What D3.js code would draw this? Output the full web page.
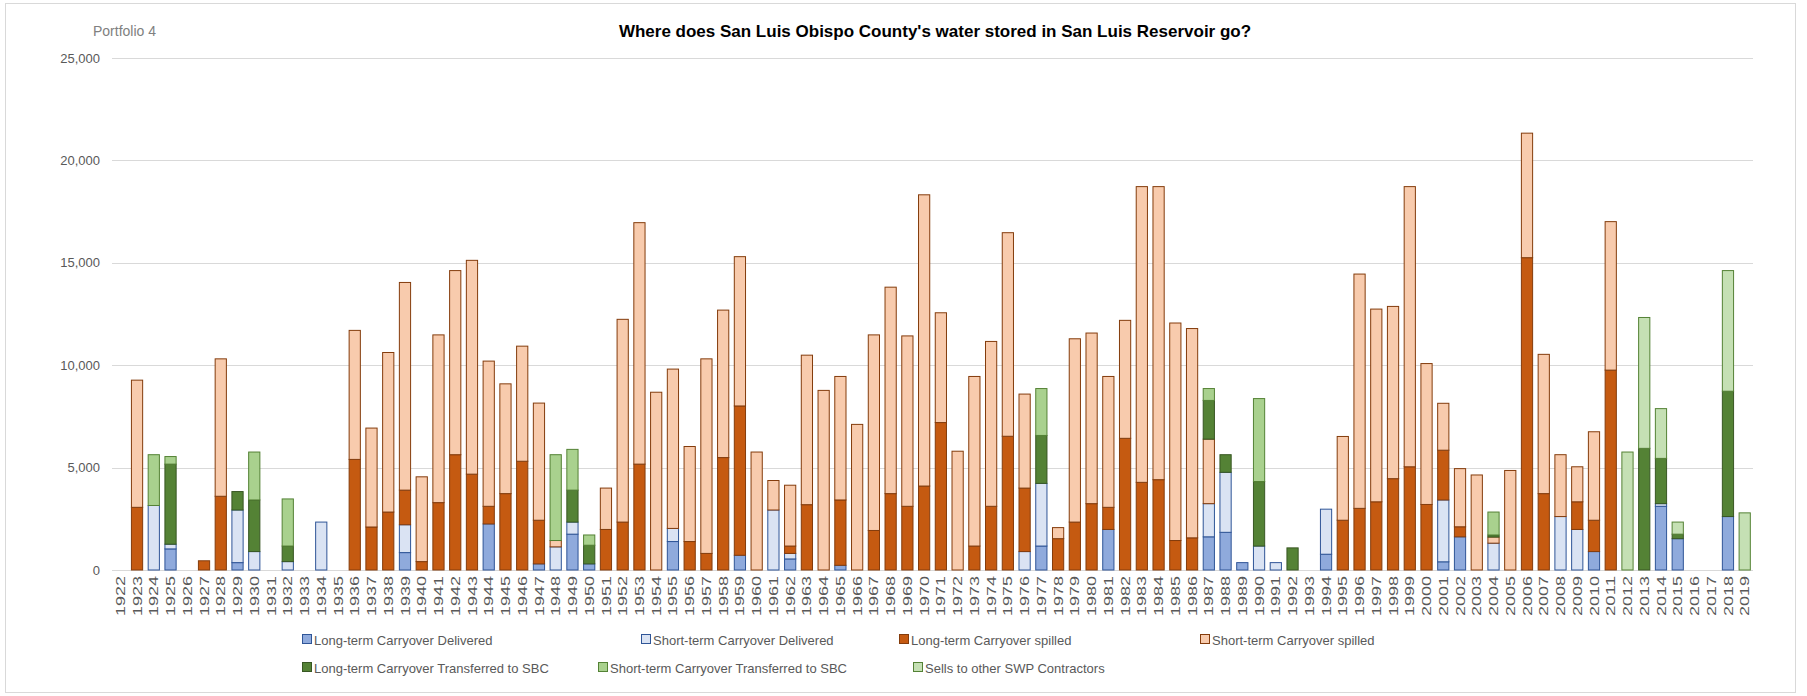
<!DOCTYPE html>
<html>
<head>
<meta charset="utf-8">
<script src="https://cdn.jsdelivr.net/npm/d3@7"></script>
<style>
  body { margin: 0; background: #fff; }
  svg text { font-family: "Liberation Sans Narrow", "Liberation Sans", Arial, sans-serif; }
</style>
</head>
<body>
<div id="chart"></div>
<script>
// years on the x axis
var years = d3.range(1922, 2020).map(String);

// series values (acre-feet), one entry per year 1922..2019
var ltDelivered = [
  0, 0, 0, 1030, 0, 0, 0, 360, 0, 0, 0, 0, 0, 0, 0, 0, 0, 850, 0, 0,
  0, 0, 2250, 0, 0, 300, 0, 1750, 300, 0, 0, 0, 0, 1390, 0, 0, 0, 720, 0, 0,
  540, 0, 0, 230, 0, 0, 0, 0, 0, 0, 0, 0, 0, 0, 0, 1170, 0, 0, 0, 1980,
  0, 0, 0, 0, 0, 1620, 1840, 360, 0, 0, 0, 0, 770, 0, 0, 0, 0, 0, 0, 400,
  1620, 0, 0, 0, 0, 0, 0, 0, 900, 0, 0, 0, 3110, 1530, 0, 0, 2610, 0
];
var stDelivered = [
  0, 0, 3150, 230, 0, 0, 0, 2570, 900, 0, 410, 0, 2340, 0, 0, 0, 0, 1360, 0, 0,
  0, 0, 0, 0, 0, 0, 1130, 590, 0, 0, 0, 0, 0, 640, 0, 0, 0, 0, 0, 2930,
  270, 0, 0, 0, 0, 0, 0, 0, 0, 0, 0, 0, 0, 0, 900, 3060, 0, 0, 0, 0,
  0, 0, 0, 0, 0, 1620, 2930, 0, 1170, 360, 0, 0, 2200, 0, 0, 0, 0, 0, 0, 3020,
  0, 0, 1310, 0, 0, 0, 2610, 1980, 0, 0, 0, 0, 130, 0, 0, 0, 0, 0
];
var ltSpilled = [
  0, 3060, 0, 0, 0, 450, 3600, 0, 0, 0, 0, 0, 0, 0, 5400, 2100, 2830, 1690, 410, 3290,
  5630, 4680, 860, 3730, 5310, 2130, 0, 0, 0, 1980, 2340, 5170, 0, 0, 1390, 810, 5490, 7290, 0, 0,
  360, 3190, 0, 3190, 0, 1930, 3730, 3110, 4100, 7200, 0, 1170, 3110, 6530, 3100, 0, 1530, 2340, 3240, 1080,
  6430, 4280, 4410, 1440, 1570, 0, 0, 0, 0, 0, 0, 0, 0, 2430, 3010, 3330, 4460, 5040, 3200, 2430,
  490, 0, 0, 0, 15250, 3730, 0, 1350, 1530, 9760, 0, 0, 0, 0, 0, 0, 0, 0
];
var stSpilled = [
  0, 6210, 0, 0, 0, 0, 6710, 0, 0, 0, 0, 0, 0, 0, 6300, 4830, 7790, 10140, 4140, 8190,
  8990, 10440, 7090, 5360, 5620, 5720, 310, 0, 0, 2020, 9900, 11790, 8680, 7780, 4640, 9500, 7200, 7290, 5760, 1440,
  2970, 7300, 8770, 6030, 7110, 9550, 10080, 8320, 14220, 5360, 5800, 8280, 8050, 9940, 4590, 0, 540, 8950, 8330, 6390,
  5760, 14440, 14310, 10620, 10220, 3150, 0, 0, 0, 0, 0, 0, 0, 4090, 11440, 9410, 8410, 13680, 6880, 2290,
  2840, 4640, 300, 4860, 6080, 6800, 3020, 1710, 4320, 7250, 0, 0, 0, 0, 0, 0, 0, 0
];
var ltTransferred = [
  0, 0, 0, 3910, 0, 0, 0, 900, 2520, 0, 760, 0, 0, 0, 0, 0, 0, 0, 0, 0,
  0, 0, 0, 0, 0, 0, 0, 1560, 910, 0, 0, 0, 0, 0, 0, 0, 0, 0, 0, 0,
  0, 0, 0, 0, 0, 0, 0, 0, 0, 0, 0, 0, 0, 0, 0, 2340, 0, 0, 0, 0,
  0, 0, 0, 0, 0, 1890, 860, 0, 3150, 0, 1080, 0, 0, 0, 0, 0, 0, 0, 0, 0,
  0, 0, 100, 0, 0, 0, 0, 0, 0, 0, 0, 5940, 2210, 220, 0, 0, 6120, 0
];
var stTransferred = [
  0, 0, 2480, 370, 0, 0, 0, 0, 2340, 0, 2300, 0, 0, 0, 0, 0, 0, 0, 0, 0,
  0, 0, 0, 0, 0, 0, 4190, 1990, 500, 0, 0, 0, 0, 0, 0, 0, 0, 0, 0, 0,
  0, 0, 0, 0, 0, 0, 0, 0, 0, 0, 0, 0, 0, 0, 0, 2290, 0, 0, 0, 0,
  0, 0, 0, 0, 0, 580, 0, 0, 4050, 0, 0, 0, 0, 0, 0, 0, 0, 0, 0, 0,
  0, 0, 1120, 0, 0, 0, 0, 0, 0, 0, 0, 0, 0, 0, 0, 0, 0, 0
];
var sellsSWP = [
  0, 0, 0, 0, 0, 0, 0, 0, 0, 0, 0, 0, 0, 0, 0, 0, 0, 0, 0, 0,
  0, 0, 0, 0, 0, 0, 0, 0, 0, 0, 0, 0, 0, 0, 0, 0, 0, 0, 0, 0,
  0, 0, 0, 0, 0, 0, 0, 0, 0, 0, 0, 0, 0, 0, 0, 0, 0, 0, 0, 0,
  0, 0, 0, 0, 0, 0, 0, 0, 0, 0, 0, 0, 0, 0, 0, 0, 0, 0, 0, 0,
  0, 0, 0, 0, 0, 0, 0, 0, 0, 0, 5760, 6390, 2430, 590, 0, 0, 5890, 2790
];

var seriesNames = [
  "Long-term Carryover Delivered",
  "Short-term Carryover Delivered",
  "Long-term Carryover spilled",
  "Short-term Carryover spilled",
  "Long-term Carryover Transferred to SBC",
  "Short-term Carryover Transferred to SBC",
  "Sells to other SWP Contractors"
];
var seriesValues = [ltDelivered, stDelivered, ltSpilled, stSpilled, ltTransferred, stTransferred, sellsSWP];
var yTicks = [0, 5000, 10000, 15000, 20000, 25000];

var fills = ["#8faadc", "#dae3f3", "#c55a11", "#f8cbad", "#548235", "#a9d18e", "#c5e0b4"];
var strokes = ["#2f5597", "#2f5597", "#843c0c", "#843c0c", "#385723", "#548235", "#548235"];

// size of the picture
var W = 1807, H = 696;
var margin = { top: 58, right: 54, bottom: 126, left: 112 },
    width = W - margin.left - margin.right,
    height = H - margin.top - margin.bottom;

var svg = d3.select("#chart")
    .append("svg")
    .attr("width", W)
    .attr("height", H);

// outer frame
svg.append("rect")
    .attr("x", 5.5).attr("y", 3.5)
    .attr("width", 1790).attr("height", 689)
    .attr("fill", "#fff")
    .attr("stroke", "#d9d9d9");

var g = svg.append("g")
    .attr("transform", "translate(" + margin.left + "," + margin.top + ")");

// build rows for d3.stack
var keys = d3.range(seriesNames.length);
var rows = years.map(function (y, i) {
    var r = { year: y };
    keys.forEach(function (k) { r[k] = seriesValues[k][i]; });
    return r;
});
var stacked = d3.stack().keys(keys)(rows);

var x = d3.scaleBand().domain(years).range([0, width]).paddingInner(0.33).paddingOuter(0.16);
var y = d3.scaleLinear().domain([0, 25000]).range([height, 0]);

// gridlines
g.append("g")
    .selectAll("line")
    .data(yTicks)
    .enter()
    .append("line")
    .attr("x1", 0).attr("x2", width)
    .attr("y1", function (d) { return Math.round(y(d)) + 0.5; })
    .attr("y2", function (d) { return Math.round(y(d)) + 0.5; })
    .attr("stroke", "#d9d9d9");

// y axis labels
var yAxis = g.append("g")
    .call(d3.axisLeft(y).tickValues(yTicks).tickSize(0).tickPadding(12).tickFormat(d3.format(",")));
yAxis.select(".domain").remove();
yAxis.selectAll("text").attr("fill", "#595959").style("font-size", "13px");

// bars
g.append("g")
    .selectAll("g")
    .data(stacked)
    .enter()
    .append("g")
    .attr("fill", function (d) { return fills[d.key]; })
    .attr("stroke", function (d) { return strokes[d.key]; })
    .selectAll("rect")
    .data(function (d) { return d.filter(function (p) { return p[1] - p[0] > 0; }); })
    .enter()
    .append("rect")
    .attr("x", function (d) { return x(d.data.year); })
    .attr("y", function (d) { return y(d[1]); })
    .attr("width", x.bandwidth())
    .attr("height", function (d) { return y(d[0]) - y(d[1]); })
    .attr("stroke-width", 1);

// x axis (rotated year labels)
var xAxis = g.append("g")
    .attr("transform", "translate(0," + height + ")")
    .call(d3.axisBottom(x).tickSize(0).tickPadding(0));
xAxis.select(".domain").remove();
xAxis.selectAll("text")
    .attr("transform", "rotate(-90)")
    .attr("text-anchor", "end")
    .attr("dy", "0.35em")
    .attr("x", -6)
    .attr("y", 0)
    .attr("fill", "#595959")
    .attr("textLength", 40)
    .attr("lengthAdjust", "spacingAndGlyphs")
    .style("font-size", "13px");

// title
svg.append("text")
    .attr("x", 935)
    .attr("y", 37)
    .attr("text-anchor", "middle")
    .style("font-size", "17px")
    .style("font-weight", "bold")
    .attr("fill", "#000")
    .text("Where does San Luis Obispo County's water stored in San Luis Reservoir go?");

svg.append("text")
    .attr("x", 93)
    .attr("y", 36)
    .style("font-size", "14px")
    .attr("fill", "#808080")
    .text("Portfolio 4");

// legend
var legendPos = [[302, 640], [641, 640], [899, 640], [1200, 640], [302, 668], [598, 668], [913, 668]];
var legend = svg.append("g")
    .selectAll("g")
    .data(keys)
    .enter()
    .append("g")
    .attr("transform", function (k) { return "translate(" + legendPos[k][0] + "," + legendPos[k][1] + ")"; });

legend.append("rect")
    .attr("x", 0.5).attr("y", -5.5)
    .attr("width", 9).attr("height", 9)
    .attr("fill", function (k) { return fills[k]; })
    .attr("stroke", function (k) { return strokes[k]; });

legend.append("text")
    .attr("x", 12)
    .attr("y", 0)
    .attr("dy", "0.35em")
    .style("font-size", "13px")
    .attr("fill", "#595959")
    .text(function (k) { return seriesNames[k]; });
</script>
</body>
</html>
